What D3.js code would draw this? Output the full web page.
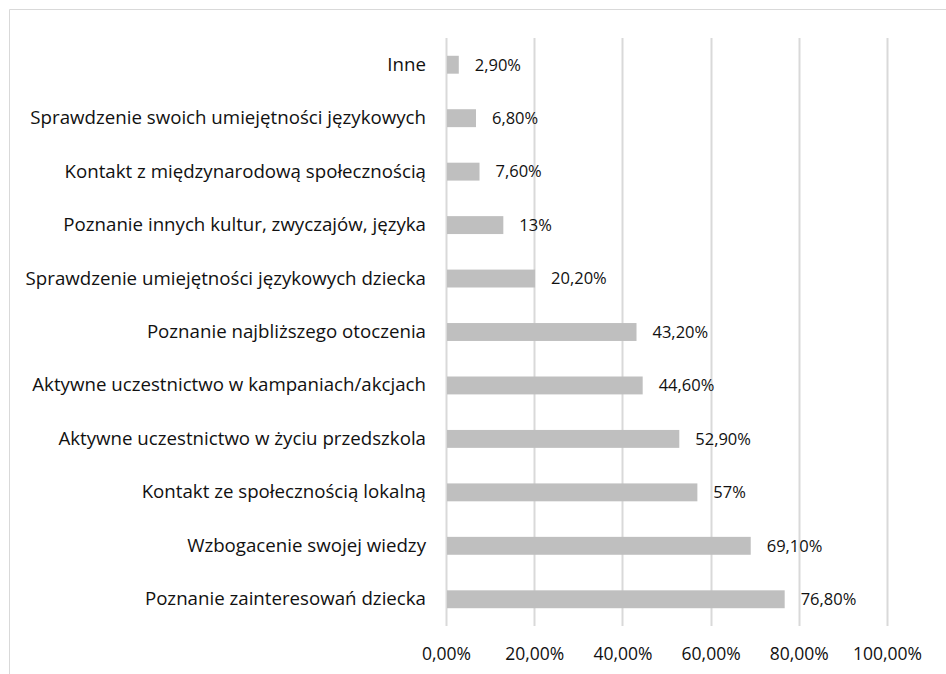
<!DOCTYPE html>
<html>
<head>
<meta charset="utf-8">
<script src="https://cdn.jsdelivr.net/npm/d3@7"></script>
<style>
  html, body { margin: 0; padding: 0; background: #fff; }
  svg { display: block; }
  text { font-family: "Open Sans", Lato, sans-serif; fill: #111; }
</style>
</head>
<body>
<svg id="chart" width="946" height="674"></svg>
<script>
// Reasons for taking part, top to bottom
const categories = [
  "Inne",
  "Sprawdzenie swoich umiejętności językowych",
  "Kontakt z międzynarodową społecznością",
  "Poznanie innych kultur, zwyczajów, języka",
  "Sprawdzenie umiejętności językowych dziecka",
  "Poznanie najbliższego otoczenia",
  "Aktywne uczestnictwo w kampaniach/akcjach",
  "Aktywne uczestnictwo w życiu przedszkola",
  "Kontakt ze społecznością lokalną",
  "Wzbogacenie swojej wiedzy",
  "Poznanie zainteresowań dziecka"
];
const values = [2.9, 6.8, 7.6, 13, 20.2, 43.2, 44.6, 52.9, 57, 69.1, 76.8];
const valueLabels = ["2,90%", "6,80%", "7,60%", "13%", "20,20%", "43,20%", "44,60%", "52,90%", "57%", "69,10%", "76,80%"];
const tickValues = [0, 20, 40, 60, 80, 100];
const tickLabels = ["0,00%", "20,00%", "40,00%", "60,00%", "80,00%", "100,00%"];

const svg = d3.select("#chart");
const W = 946, H = 674;
const plot = { left: 446, right: 887, top: 38, bottom: 626 };

// Chart frame (only top and left edges are inside the view)
svg.append("line").attr("x1", 9.5).attr("x2", W).attr("y1", 9.5).attr("y2", 9.5)
  .attr("stroke", "#d9d9d9").attr("stroke-width", 1);
svg.append("line").attr("x1", 9.5).attr("x2", 9.5).attr("y1", 9.5).attr("y2", H)
  .attr("stroke", "#d9d9d9").attr("stroke-width", 1);

const x = d3.scaleLinear().domain([0, 100]).range([plot.left, plot.right]);
const y = d3.scaleBand().domain(categories).range([plot.top, plot.bottom]).paddingInner(0.665).paddingOuter(0.3325);

// Vertical gridlines
svg.append("g").selectAll("line").data(tickValues).join("line")
  .attr("x1", d => Math.round(x(d)) + 0.5).attr("x2", d => Math.round(x(d)) + 0.5)
  .attr("y1", plot.top).attr("y2", plot.bottom)
  .attr("stroke", "#d9d9d9").attr("stroke-width", 2);

// X axis tick labels
const xAxis = d3.axisBottom(x).tickValues(tickValues)
  .tickFormat((d, i) => tickLabels[i]).tickSize(0).tickPadding(0);
const gx = svg.append("g").attr("transform", `translate(0,${plot.bottom + 22})`).call(xAxis);
gx.select(".domain").remove();
gx.selectAll("text").attr("font-size", 17.5).attr("fill", "#111")
  .attr("font-family", "'Open Sans', sans-serif");

// Category labels
const yAxis = d3.axisLeft(y).tickSize(0).tickPadding(20);
const gy = svg.append("g").attr("transform", `translate(${plot.left},0)`).call(yAxis);
gy.select(".domain").remove();
gy.selectAll("text").attr("font-size", 18.7).attr("fill", "#111")
  .attr("font-family", "'Open Sans', sans-serif");

// Bars
const rows = categories.map((c, i) => ({ c, v: values[i], lab: valueLabels[i] }));
svg.append("g").selectAll("rect").data(rows).join("rect")
  .attr("x", x(0) + 1)
  .attr("y", d => y(d.c))
  .attr("width", d => x(d.v) - x(0) - 1)
  .attr("height", y.bandwidth())
  .attr("fill", "#bfbfbf");

// Value labels
svg.append("g").selectAll("text").data(rows).join("text")
  .attr("x", d => x(d.v) + 16)
  .attr("y", d => y(d.c) + y.bandwidth() / 2)
  .attr("dy", "0.35em")
  .attr("font-size", 16.5)
  .text(d => d.lab);
</script>
</body>
</html>
